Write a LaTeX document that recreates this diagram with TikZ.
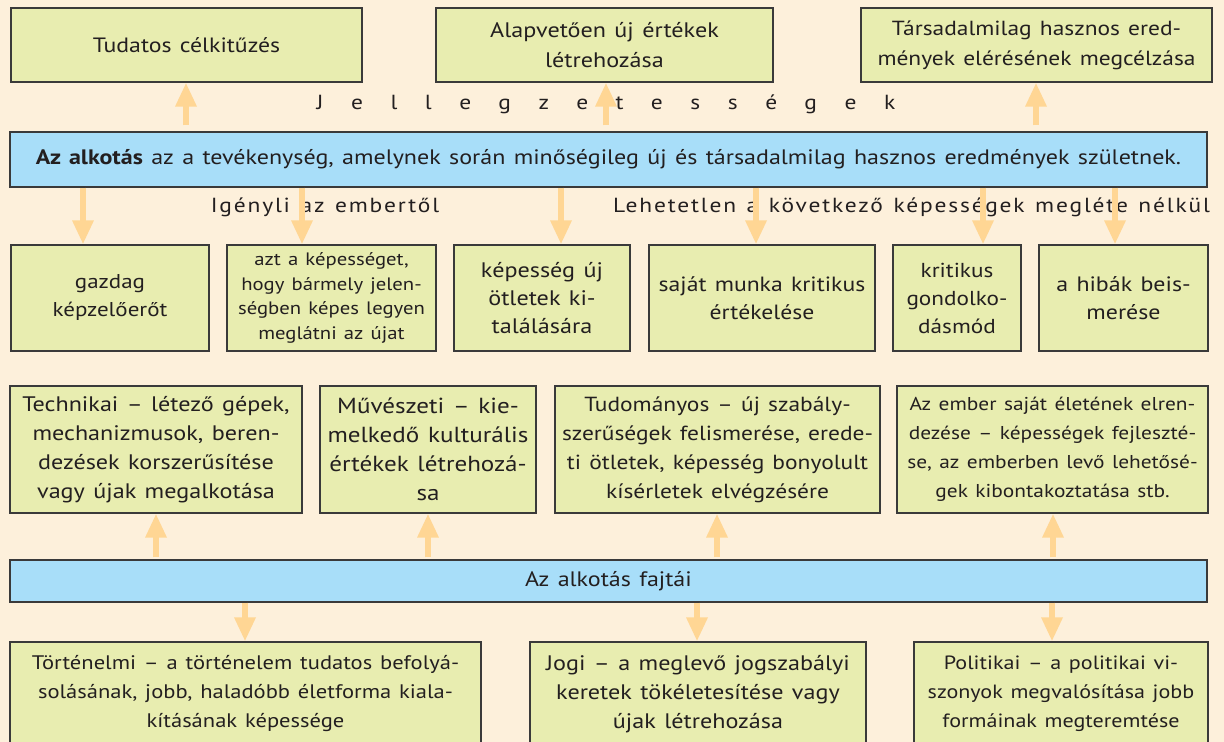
\documentclass[tikz,border=0pt]{standalone}
\usepackage{fontspec}
\setmainfont{PT Sans}[FakeStretch=1.15,WordSpace=1.3]
\usetikzlibrary{arrows.meta}

\definecolor{hatter}{HTML}{FDF0DB}
\definecolor{zold}{HTML}{E8EDB0}
\definecolor{kek}{HTML}{A8DEF9}
\definecolor{nyilszin}{HTML}{FFD694}
\definecolor{szoveg}{HTML}{231F20}
\definecolor{keret}{HTML}{3A3A3A}

\begin{document}
\begin{tikzpicture}[x=0.5pt,y=-0.5pt,
  doboz/.style={draw=keret,line width=0.6pt,fill=zold,align=center,inner sep=0pt,
    text=szoveg,font=\fontsize{10.5}{14.5}\selectfont},
  sav/.style={draw=keret,line width=0.6pt,fill=kek,inner sep=0pt,text=szoveg,
    minimum width=598.5pt,font=\fontsize{10.45}{12}\selectfont},
  felirat/.style={text=szoveg,inner sep=0pt,font=\fontsize{10.2}{12}\selectfont},
  nyil/.style={draw=nyilszin,line width=3pt,-{Triangle[width=10pt,length=12pt]}}]

  \fill[hatter] (0,0) rectangle (1224,742);
  \useasboundingbox (0,0) rectangle (1224,742);

  % jellegzetessegek
  \node[doboz,minimum width=175.5pt,minimum height=37pt,font=\fontsize{10.35}{15}\selectfont] (t1) at (186.5,45) {Tudatos célkitűzés};
  \node[doboz,minimum width=168.5pt,minimum height=37pt,font=\fontsize{10.5}{15}\selectfont] (t2) at (604.5,45) {Alapvetően új értékek\\létrehozása};
  \node[doboz,minimum width=175.5pt,minimum height=37pt,font=\fontsize{10.2}{15}\selectfont] (t3) at (1036.5,45) {Társadalmilag hasznos ered-\\mények elérésének megcélzása};

  \node[felirat,font=\fontsize{10.2}{12}\selectfont\addfontfeature{LetterSpace=135}] (jell) at (606,104) {Jellegzetességek};

  \node[sav,minimum height=27.5pt] (fo) at (608.5,159.5)
    {\textbf{Az alkotás} az a tevékenység, amelynek során minőségileg új és társadalmilag hasznos eredmények születnek.};

  \node[felirat,font=\fontsize{10.2}{12}\selectfont\addfontfeature{LetterSpace=9}] (igeny) at (325,207) {Igényli az embertől};
  \node[felirat,font=\fontsize{10.2}{12}\selectfont\addfontfeature{LetterSpace=9}] (lehet) at (911.5,207) {Lehetetlen a következő képességek megléte nélkül};

  % kepessegek
  \node[doboz,minimum width=99pt,minimum height=53pt,font=\fontsize{10}{14}\selectfont] (m1) at (110,298) {gazdag\\képzelőerőt};
  \node[doboz,minimum width=104.5pt,minimum height=53pt,font=\fontsize{9}{12.2}\selectfont] (m2) at (331.5,298)
    {azt a képességet,\\hogy bármely jelen-\\ségben képes legyen\\meglátni az újat};
  \node[doboz,minimum width=88pt,minimum height=53pt,font=\fontsize{10.5}{14}\selectfont] (m3) at (542,298) {képesség új\\ötletek ki-\\találására};
  \node[doboz,minimum width=113pt,minimum height=53pt,font=\fontsize{10.3}{14}\selectfont] (m4) at (762,298) {saját munka kritikus\\értékelése};
  \node[doboz,minimum width=64pt,minimum height=53pt,font=\fontsize{10.1}{14}\selectfont] (m5) at (957,298) {kritikus\\gondolko-\\dásmód};
  \node[doboz,minimum width=84.5pt,minimum height=53pt,font=\fontsize{10.4}{14}\selectfont] (m6) at (1123.5,298) {a hibák beis-\\merése};

  % fajtak
  \node[doboz,minimum width=146pt,minimum height=63.5pt] (f1) at (156,449.5)
    {Technikai -- létező gépek,\\mechanizmusok, beren-\\dezések korszerűsítése\\vagy újak megalkotása};
  \node[doboz,minimum width=108pt,minimum height=63.5pt,font=\fontsize{10.9}{14.5}\selectfont] (f2) at (428,449.5)
    {Művészeti -- kie-\\melkedő kulturális\\értékek létrehozá-\\sa};
  \node[doboz,minimum width=162.5pt,minimum height=63.5pt,font=\fontsize{10.2}{14.5}\selectfont] (f3) at (717.5,449.5)
    {Tudományos -- új szabály-\\szerűségek felismerése, erede-\\ti ötletek, képesség bonyolult\\kísérletek elvégzésére};
  \node[doboz,minimum width=155.5pt,minimum height=63.5pt,font=\fontsize{9.3}{14.5}\selectfont] (f4) at (1052.5,449.5)
    {Az ember saját életének elren-\\dezése -- képességek fejleszté-\\se, az emberben levő lehetősé-\\gek kibontakoztatása stb.};

  \node[sav,minimum height=21pt] (fajtai) at (608.5,581) {Az alkotás fajtái};

  \node[doboz,minimum width=235.5pt,minimum height=52pt,font=\fontsize{9.8}{14.5}\selectfont] (b1) at (245.5,694)
    {Történelmi -- a történelem tudatos befolyá-\\solásának, jobb, haladóbb életforma kiala-\\kításának képessége};
  \node[doboz,minimum width=168pt,minimum height=52pt,font=\fontsize{10.5}{14.5}\selectfont] (b2) at (698,694)
    {Jogi -- a meglevő jogszabályi\\keretek tökéletesítése vagy\\újak létrehozása};
  \node[doboz,minimum width=147pt,minimum height=52pt,font=\fontsize{9.6}{14.5}\selectfont] (b3) at (1061,694)
    {Politikai -- a politikai vi-\\szonyok megvalósítása jobb\\formáinak megteremtése};

  % nyilak
  \foreach \x/\cel in {186/t1,606/t2,1036/t3}
    \draw[nyil,shorten <=3pt] (fo.north -| \x,0) -- (\cel.south -| \x,0);
  \foreach \x/\cel in {83/m1,302/m2,561/m3,756/m4,983/m5,1115/m6}
    \draw[nyil] (fo.south -| \x,0) -- (\cel.north -| \x,0);
  \foreach \x/\cel in {156/f1,428/f2,717/f3,1053/f4}
    \draw[nyil,shorten <=1pt] (fajtai.north -| \x,0) -- (\cel.south -| \x,0);
  \foreach \x/\cel in {245/b1,697/b2,1052/b3}
    \draw[nyil] (fajtai.south -| \x,0) -- (\cel.north -| \x,0);
\end{tikzpicture}
\end{document}
